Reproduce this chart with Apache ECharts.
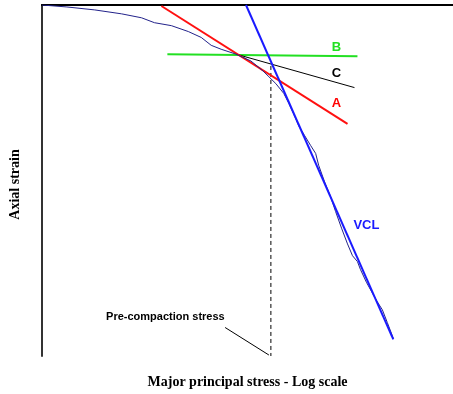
<!DOCTYPE html>
<html><head><meta charset="utf-8">
<script src="https://cdn.jsdelivr.net/npm/echarts@6/dist/echarts.min.js"></script>
<style>html,body{margin:0;padding:0;background:#fff}#c{width:453px;height:394px}</style>
</head><body><div id="c"></div>
<script>
// Units: x = log-stress index (0..413), y = axial strain index (0..357, increasing downward)
var curveX = [0,25,53,80,100,113,130,147,160,170,180,195,210,222,228,235,243,248,253,258,264,270,275,278,284,290,295,301,307,312,317,320,326,332,337,342,347,353];
var curveY = [0,2,5,9,13,18,21,27,33,41,45,50,57,67,73,80,90,100,111,123,133,143,151,163,180,195,210,227,243,255,261,269,282,293,302,310,323,339];
var vclX = [205,353], vclY = [0,340];
var lineAX = [120,307], lineAY = [1,121];
var lineBX = [126,317], lineBY = [50,52];
var lineCX = [195,314], lineCY = [50,84];
var preX = [230,230], preY = [62,357];
var leaderX = [184,228], leaderY = [328,356];
var labelText = ['B','C','A','VCL','Pre-compaction stress'];
var labelX = [296,296,296,326,124];
var labelY = [43,70,100,224,317];
var labelColor = ['#22e022','#000000','#ff0000','#1a1aff','#000000'];
var labelSize = [13,13,13,13,11];

function pts(xs, ys){ return xs.map(function(x,i){ return [x, ys[i]]; }); }
function ln(xs, ys, color, width, type){
  return {type:'line', data:pts(xs,ys), symbol:'none', silent:true, animation:false,
    lineStyle:{color:color, width:width, type:type||'solid'}, z:3};
}
var chart = echarts.init(document.getElementById('c'));
var labelSeries = labelText.map(function(t,i){
  return {type:'scatter', data:[[labelX[i],labelY[i]]], symbolSize:1, itemStyle:{color:'rgba(0,0,0,0)', opacity:1}, animation:false, silent:true, z:5,
    label:{show:true, position:'inside', opacity:1, formatter:t, color:labelColor[i], fontFamily:'Liberation Sans, Arial, sans-serif', fontWeight:'bold', fontSize:labelSize[i]}};
});
chart.setOption({
  backgroundColor:'#fff',
  animation:false,
  grid:{left:40, right:0, top:5, bottom:32},
  xAxis:[
    {type:'value', min:0, max:413, position:'bottom', splitLine:{show:false}, axisTick:{show:false}, axisLabel:{show:false},
     axisLine:{show:true, lineStyle:{color:'#000', width:2}},
     name:'Major principal stress - Log scale', nameLocation:'middle', nameGap:19,
     nameTextStyle:{fontFamily:'Liberation Serif, Times New Roman, serif', fontWeight:'bold', fontSize:14, color:'#000'}},
    {type:'value', min:0, max:413, position:'top', splitLine:{show:false}, axisTick:{show:false}, axisLabel:{show:false},
     axisLine:{show:true, lineStyle:{color:'#000', width:1.5}}}
  ],
  yAxis:{type:'value', min:0, max:357, inverse:true, splitLine:{show:false}, axisTick:{show:false}, axisLabel:{show:false},
     axisLine:{show:true, lineStyle:{color:'#333', width:2}},
     name:'Axial strain', nameLocation:'middle', nameGap:20, nameRotate:90,
     nameTextStyle:{fontFamily:'Liberation Serif, Times New Roman, serif', fontWeight:'bold', fontSize:14, color:'#000', padding:[0,8,0,0]}},
  series:[
    ln(preX, preY, '#000', 1, [4,3]),
    ln(leaderX, leaderY, '#000', 1),
    ln(lineBX, lineBY, '#22e022', 2),
    ln(lineCX, lineCY, '#000', 1),
    ln(lineAX, lineAY, '#ff1010', 2),
    ln(curveX, curveY, '#22228a', 1),
    ln(vclX, vclY, '#1a1aff', 2)
  ].concat(labelSeries)
});
</script></body></html>
